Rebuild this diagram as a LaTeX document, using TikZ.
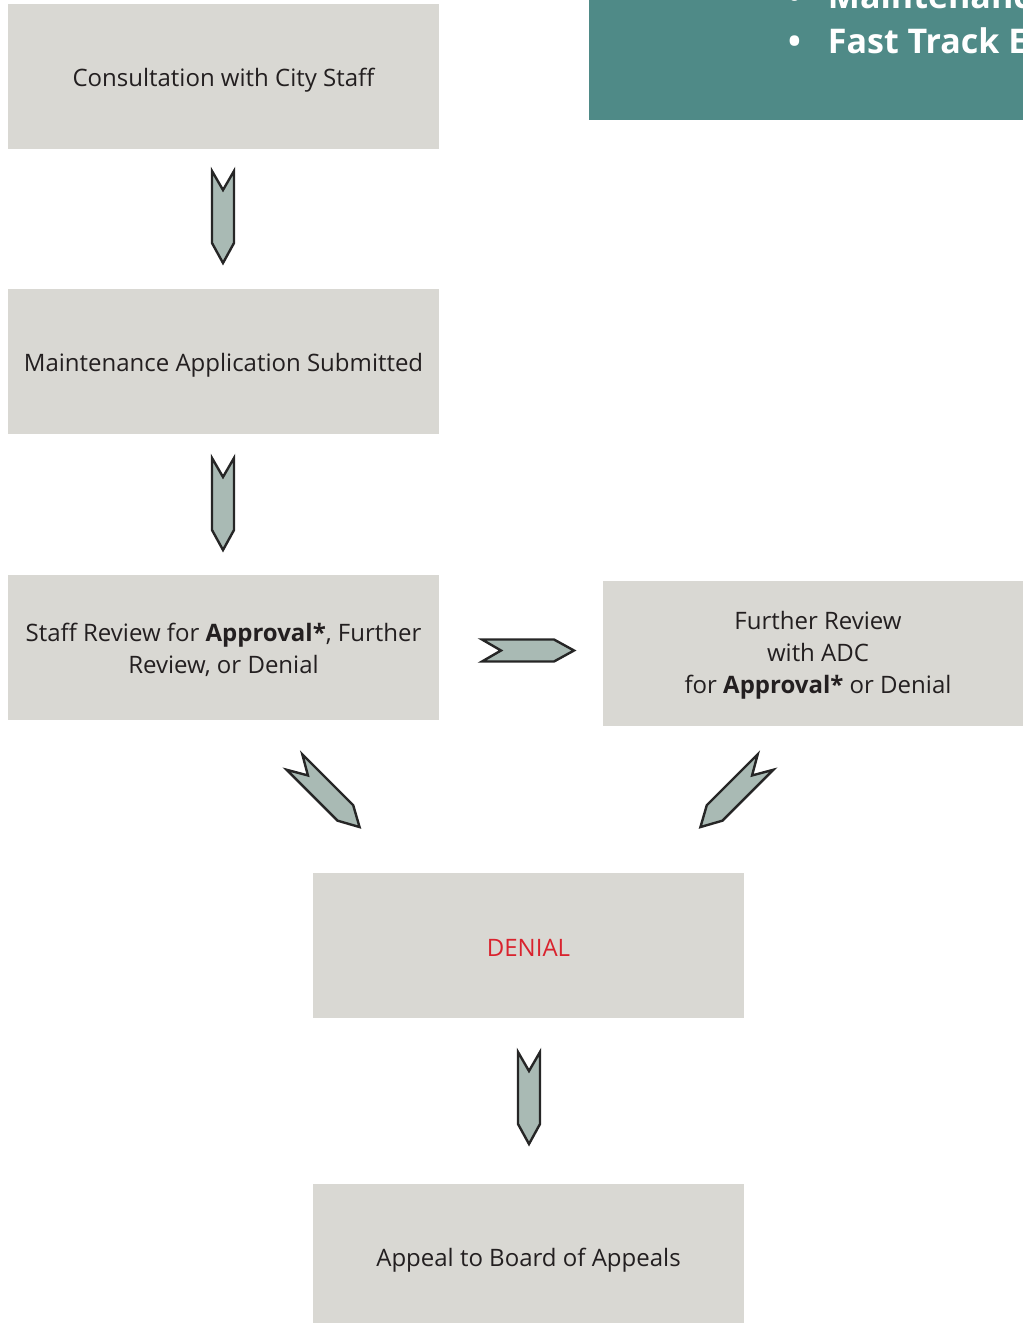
\documentclass[tikz,border=0pt]{standalone}
\usepackage{fontspec}
\setmainfont{Open Sans}
\definecolor{boxgray}{HTML}{D9D8D3}
\definecolor{arrowfill}{HTML}{A9BAB4}
\definecolor{teal1}{HTML}{4F8A87}
\definecolor{denialred}{HTML}{D9232E}
\definecolor{txt}{HTML}{231F20}
\tikzset{
  stepbox/.style={fill=boxgray, draw=none, minimum width=431pt, minimum height=145pt, inner sep=0pt},
  steplabel/.style={inner sep=0pt, align=center, text=txt, font=\fontsize{24}{32}\selectfont},
  blockarrow/.style={fill=arrowfill, draw=black!85, line width=2.4pt, line join=miter},
  headtext/.style={anchor=base west, text=white, font=\fontsize{34}{44}\bfseries\selectfont, inner sep=0pt},
}
\newcommand\chevronarrow[2]{%
  \draw[blockarrow, shift={(#1)}, rotate=#2] (0,-11) -- (19,0) -- (0,11) -- (72,11) -- (92,0) -- (72,-11) -- cycle;}
\begin{document}
\begin{tikzpicture}[x=1pt,y=-1pt]
\useasboundingbox (0,0) rectangle (1023,1323);
% teal header box
\fill[teal1] (589,-20) rectangle (1060,120);
\node[headtext] (b1) at (788,8) {\textbullet\hspace{27pt}Maintenance};
\node[headtext] (b2) at (788,53) {\textbullet\hspace{27pt}Fast Track Eligible};
% boxes
\node[stepbox] (consult) at (223.5,76.5) {};
\node[stepbox] (submit) at (223.5,361.5) {};
\node[stepbox] (staff) at (223.5,647.5) {};
\node[stepbox, minimum width=430pt] (adc) at (818,653.5) {};
\node[stepbox] (denial) at (528.5,945.5) {};
\node[stepbox] (appeal) at (528.5,1256.5) {};
% labels
\node[steplabel] (consultT) at ([yshift=-4pt]consult.center) {Consultation with City Staff};
\node[steplabel] (submitT) at ([yshift=-4pt]submit.center) {Maintenance Application Submitted};
\node[steplabel] (staffT) at ([yshift=-2pt]staff.center) {Staff Review for \textbf{Approval*}, Further\\Review, or Denial};
\node[steplabel] (adcT) at ([yshift=-2pt]adc.center) {Further Review\\with ADC\\for \textbf{Approval*} or Denial};
\node[steplabel, text=denialred] (denialT) at ([yshift=-2pt]denial.center) {DENIAL};
\node[steplabel] (appealT) at ([yshift=-4pt]appeal.center) {Appeal to Board of Appeals};
% block arrows
\coordinate (a1) at (223,171);
\coordinate (a2) at (223,458);
\coordinate (a3) at (482,650.5);
\coordinate (a4) at (294.5,762);
\coordinate (a5) at (765.5,762);
\coordinate (a6) at (529,1052);
\chevronarrow{a1}{-90}
\chevronarrow{a2}{-90}
\chevronarrow{a3}{0}
\chevronarrow{a4}{-45}
\chevronarrow{a5}{-135}
\chevronarrow{a6}{-90}
\end{tikzpicture}
\end{document}
